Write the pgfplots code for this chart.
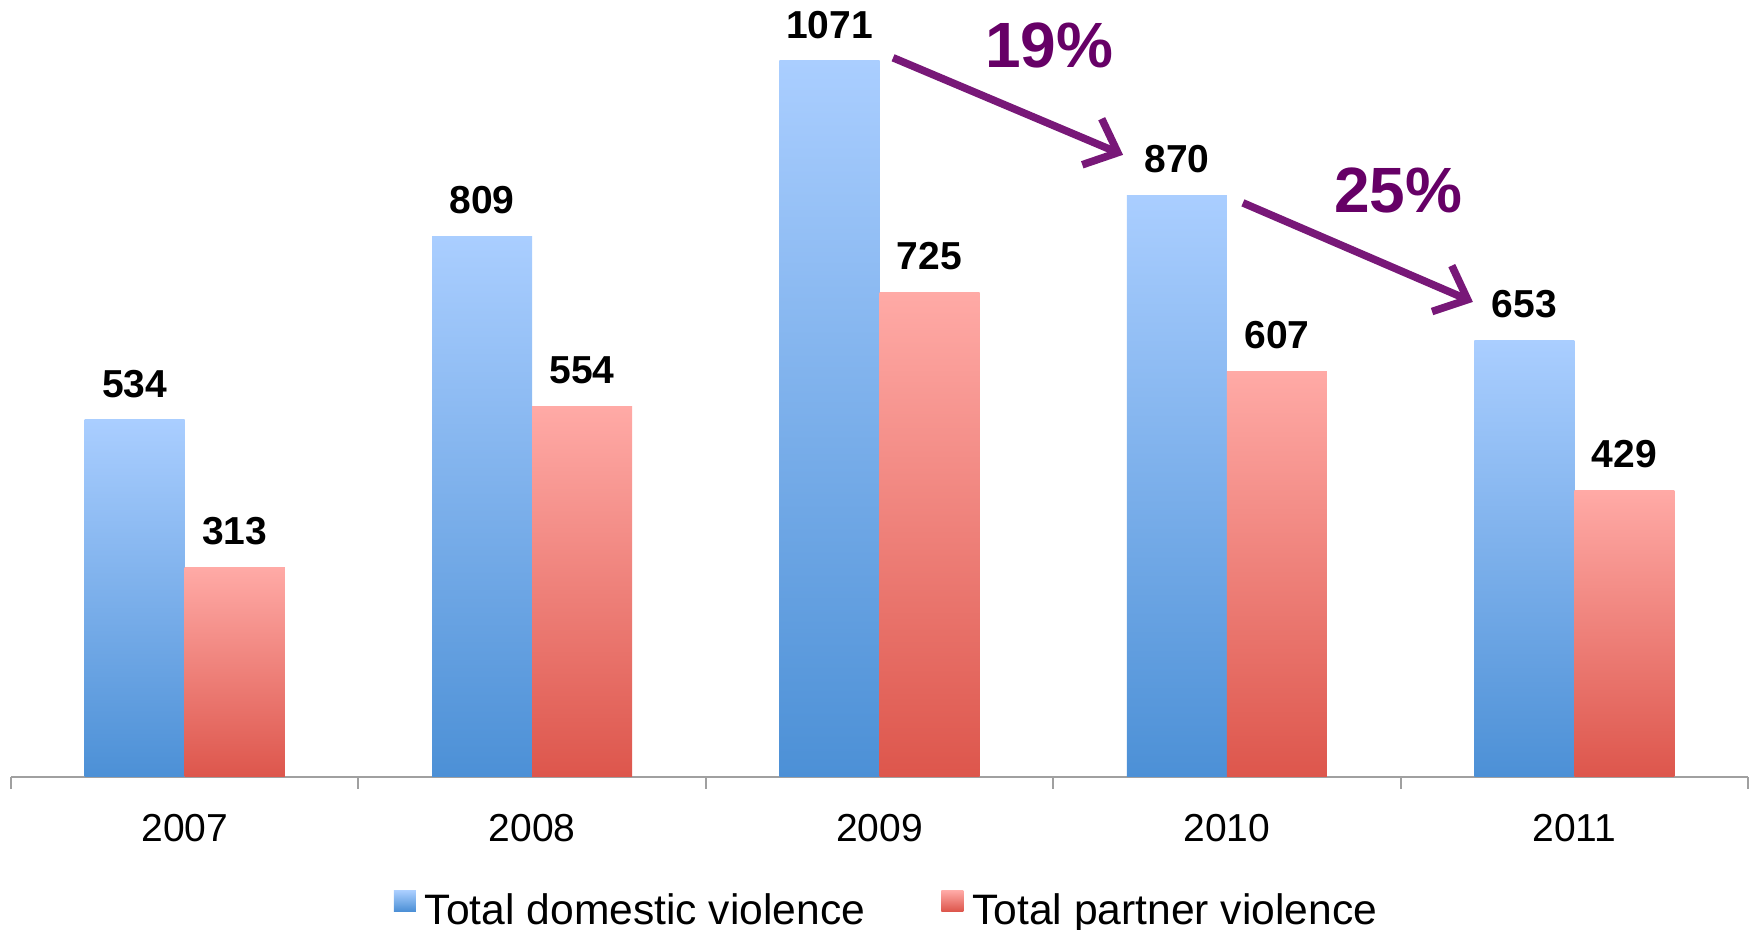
\documentclass[border=0pt]{standalone}
\usepackage{fontspec}
\setmainfont{Liberation Sans}
\usepackage{pgfplots}
\pgfplotsset{compat=1.18}
\usetikzlibrary{arrows.meta}
\definecolor{bluetop}{RGB}{170,206,255}
\definecolor{bluebot}{RGB}{76,144,214}
\definecolor{redtop}{RGB}{255,170,166}
\definecolor{redbot}{RGB}{221,86,76}
\definecolor{axisgray}{RGB}{160,160,160}
\definecolor{pcttext}{RGB}{102,0,102}
\definecolor{arrowcol}{RGB}{120,24,120}
\pgfplotsset{
  dombar/.style={ybar, bar width=0.288, bar shift=-0.144, draw=none,
    top color=bluetop, bottom color=bluebot,
    every node near coord/.append style={xshift=-25pt}},
  parbar/.style={ybar, bar width=0.288, bar shift=0.144, draw=none,
    top color=redtop, bottom color=redbot,
    every node near coord/.append style={xshift=25pt}},
}
\begin{document}
\begin{tikzpicture}
\begin{axis}[
  scale only axis, width=868.5pt, height=388.5pt,
  xmin=-0.5, xmax=4.5, ymin=0, ymax=1162,
  clip=false,
  axis x line*=bottom, axis y line=none,
  x axis line style={-, draw=axisgray, line width=1pt},
  xtick={0,1,2,3,4}, xticklabels={2007,2008,2009,2010,2011},
  major tick length=0pt,
  minor xtick={-0.5,0.5,1.5,2.5,3.5,4.5},
  minor tick length=6pt,
  tick align=outside,
  minor tick style={draw=axisgray, line width=1pt},
  xticklabel style={font=\fontsize{19.5}{20}\selectfont, anchor=north, inner sep=0pt},
  xticklabel shift=18.5pt,
  /pgf/number format/assume math mode=true,
  /pgf/number format/1000 sep={},
  nodes near coords,
  every node near coord/.append style={font=\bfseries\fontsize{19.5}{20}\selectfont, anchor=south, inner sep=0pt, yshift=11pt, text=black},
  legend columns=2,
  legend style={at={(0.5035,-0.170)}, anchor=center, draw=none, fill=none,
    font=\fontsize{21.3}{23}\selectfont, inner sep=0pt,
    nodes={inner sep=0pt},
    /tikz/every odd column/.append style={column sep=4.5pt},
    /tikz/every even column/.append style={column sep=38pt}},
  legend image code/.code={\path[#1, draw=none] (0pt,-0.25pt) rectangle (11pt,10pt);},
]
% Total domestic violence
\addplot[dombar] coordinates {(0,534)};
\addlegendentry{Total domestic violence}
\addplot[parbar] coordinates {(0,313)};
\addlegendentry{Total partner violence}
\addplot[dombar, forget plot] coordinates {(1,809)};
\addplot[dombar, forget plot] coordinates {(2,1071)};
\addplot[dombar, forget plot] coordinates {(3,870)};
\addplot[dombar, forget plot] coordinates {(4,653)};
% Total partner violence
\addplot[parbar, forget plot] coordinates {(1,554)};
\addplot[parbar, forget plot] coordinates {(2,725)};
\addplot[parbar, forget plot] coordinates {(3,607)};
\addplot[parbar, forget plot] coordinates {(4,429)};
\draw[arrowcol, line width=3.8pt, -{Straight Barb[length=14pt, width=25pt]}]
  (axis cs:2.039,1075.6) -- (axis cs:2.701,930.4);
\draw[arrowcol, line width=3.8pt, -{Straight Barb[length=14pt, width=25pt]}]
  (axis cs:3.046,858.6) -- (axis cs:3.708,710.5);
\node[anchor=base, text=pcttext, font=\bfseries\fontsize{32}{34}\selectfont, inner sep=0pt] at (axis cs:2.488,1060.6) {19\%};
\node[anchor=base, text=pcttext, font=\bfseries\fontsize{32}{34}\selectfont, inner sep=0pt] at (axis cs:3.493,843.7) {25\%};
\end{axis}
\pgfresetboundingbox
\path[use as bounding box] (-5.5pt,-76.5pt) rectangle (871.5pt,388.5pt);
\end{tikzpicture}
\end{document}
